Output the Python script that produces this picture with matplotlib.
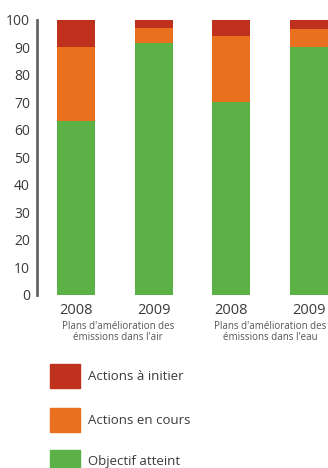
import matplotlib
matplotlib.use("Agg")
import matplotlib.pyplot as plt
from matplotlib.patches import Rectangle
import numpy as np

plt.rcParams['font.family'] = ['Open Sans', 'DejaVu Sans']

years = ['2008', '2009', '2008', '2009']
groups = ["Plans d'amélioration des\némissions dans l'air",
          "Plans d'amélioration des\némissions dans l'eau"]
atteint = [63, 91.5, 70, 90]
en_cours = [27, 5.5, 24, 6.5]
a_initier = [10, 3, 6, 3.2]
labels = ['Actions à initier', 'Actions en cours', 'Objectif atteint']
colors = ['#c0311d', '#e8701f', '#5bb146']

W, H = 328, 468
fig = plt.figure(figsize=(W / 100, H / 100), dpi=100)

def fx(px):
    return px / W

def fy(py):
    return 1 - py / H

ax = fig.add_axes([fx(37), fy(295), fx(328) - fx(37), fy(19.5) - fy(295)])
x = np.arange(len(years))
w = 0.49
ax.bar(x, atteint, w, color=colors[2])
ax.bar(x, en_cours, w, bottom=atteint, color=colors[1])
ax.bar(x, a_initier, w, bottom=np.array(atteint) + np.array(en_cours), color=colors[0])

ax.set_xlim(-0.5, 3.245)
ax.set_ylim(0, 100)
ax.set_yticks(range(0, 101, 10))
ax.tick_params(axis='y', length=0, pad=5, labelsize=10, labelcolor='#3a3a3a')
ax.set_xticks(x)
ax.set_xticklabels(years)
ax.tick_params(axis='x', length=0, pad=6, labelsize=10.5, labelcolor='#3a3a3a')
for s in ['top', 'right', 'bottom']:
    ax.spines[s].set_visible(False)
ax.spines['left'].set_color('#666666')
ax.spines['left'].set_linewidth(2)

fig.text(fx(118), fy(332), groups[0], ha='center', va='center', fontsize=7,
         color='#555555', linespacing=0.9)
fig.text(fx(270), fy(332), groups[1], ha='center', va='center', fontsize=7,
         color='#555555', linespacing=0.9)

tops = [364, 408, 450]
for lab, col, t in zip(labels, colors, tops):
    fig.add_artist(Rectangle((fx(50), fy(t + 24)), fx(30), fy(t) - fy(t + 24),
                             color=col, transform=fig.transFigure))
    fig.text(fx(88), fy(t + 12), lab, ha='left', va='center', fontsize=9.5,
             color='#3a3a3a')

fig.savefig('out.png', dpi=100)
